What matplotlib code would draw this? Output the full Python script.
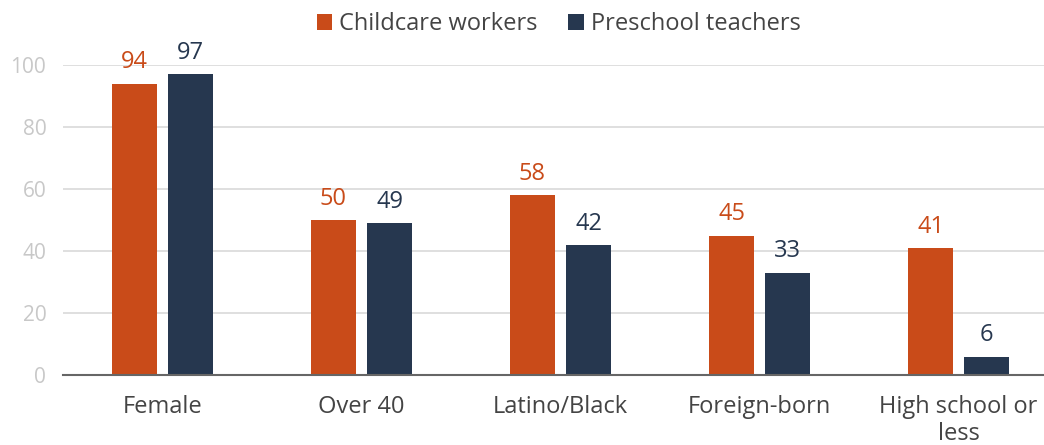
import numpy as np
import matplotlib.pyplot as plt

plt.rcParams['font.family'] = ['Open Sans', 'DejaVu Sans']

categories = ["Female", "Over 40", "Latino/Black", "Foreign-born", "High school or\nless"]
childcare = [94, 50, 58, 45, 41]
preschool = [97, 49, 42, 33, 6]

orange = "#c94b19"
navy = "#26374f"

fig = plt.figure(figsize=(10.44, 4.45), dpi=100)
ax = fig.add_axes([0.0603, 0.157, 0.9447, 0.697])

x = np.arange(len(categories))
w = 0.227
off = 0.141
b1 = ax.bar(x - off, childcare, w, color=orange, label="Childcare workers", zorder=3)
b2 = ax.bar(x + off, preschool, w, color=navy, label="Preschool teachers", zorder=3)

for rect, v in zip(b1, childcare):
    ax.text(rect.get_x() + rect.get_width() / 2, v + 3, str(v), ha='center', va='bottom',
            color=orange, fontsize=17, clip_on=False)
for rect, v in zip(b2, preschool):
    ax.text(rect.get_x() + rect.get_width() / 2, v + 3, str(v), ha='center', va='bottom',
            color=navy, fontsize=17, clip_on=False)

ax.set_ylim(0, 100)
ax.set_xlim(-0.5, 4.455)
ax.set_yticks([0, 20, 40, 60, 80, 100])
ax.yaxis.grid(True, color="#d9d9d9", linewidth=1.2, zorder=0)
ax.set_axisbelow(True)
for s in ['top', 'right', 'left']:
    ax.spines[s].set_visible(False)
ax.spines['bottom'].set_color("#666666")
ax.spines['bottom'].set_linewidth(1.5)
ax.spines['bottom'].set_zorder(4)
ax.tick_params(axis='y', length=0, labelsize=15, labelcolor="#c8c8c8", pad=12)
ax.tick_params(axis='x', length=0, labelsize=17, labelcolor="#444444", pad=14)
ax.set_xticks(x)
ax.set_xticklabels(categories, linespacing=1.2)

fig.legend(handles=[b1, b2], loc='center', bbox_to_anchor=(0.535, 0.945), ncol=2,
           frameon=False, fontsize=17, handlelength=0.65, handleheight=0.65,
           handletextpad=0.3, columnspacing=1.3, labelcolor="#444444")

fig.savefig("out.png", dpi=100)
